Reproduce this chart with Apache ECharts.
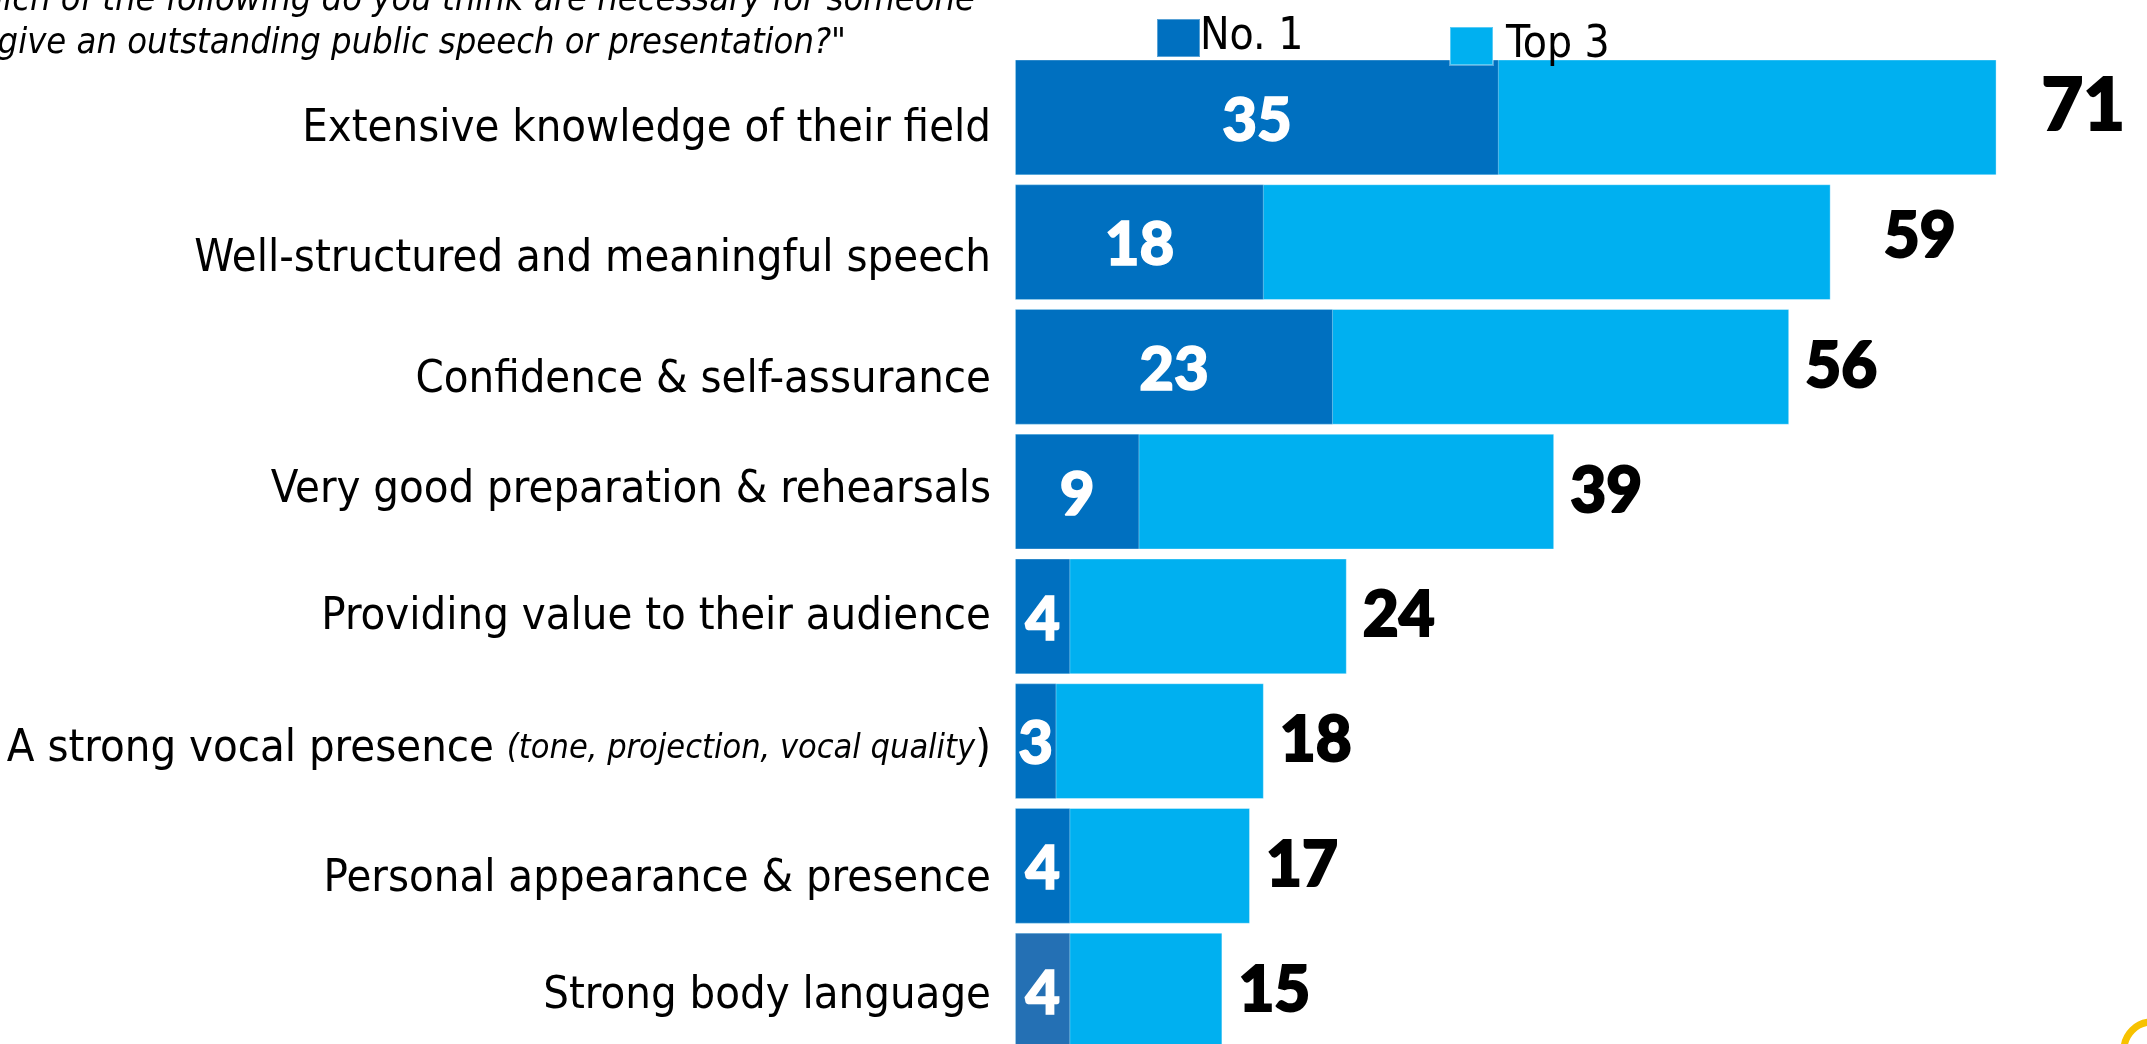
<!DOCTYPE html>
<html>
<head>
<meta charset="utf-8">
<script src="https://cdn.jsdelivr.net/npm/echarts@6/dist/echarts.min.js"></script>
<style>
  html, body { margin: 0; padding: 0; background: #fff; }
  #myChart { width: 2147px; height: 1044px; }
</style>
</head>
<body>
<div id="myChart"></div>
<script>
const categories = [
    'Extensive knowledge of their field',
    'Well-structured and meaningful speech',
    'Confidence & self-assurance',
    'Very good preparation & rehearsals',
    'Providing value to their audience',
    'A strong vocal presence (tone, projection, vocal quality)',
    'Personal appearance & presence',
    'Strong body language'
]
const no1 = [35, 18, 23, 9, 4, 3, 4, 4]
const top3 = [71, 59, 56, 39, 24, 18, 17, 15]
const legendData = ['No. 1', 'Top 3']
const questionLines = [
    '"Which of the following do you think are necessary for someone',
    'to give an outstanding public speech or presentation?"'
]

const narrow = '"Liberation Sans Narrow", "Arial Narrow", "DejaVu Sans Condensed", sans-serif'
const heavy = 'Lato, "DejaVu Sans", sans-serif'
const color = ['#0070c0', '#00b0f0']

// the category labels in the original sit a little below the bar centres
const labelShift = [12, 17, 13, -1, 1, 8, 13, 6]

let myChart = echarts.init(document.getElementById('myChart'))

const yData = categories.map((c, i) => {
    let s = labelShift[i]
    return {
        value: c,
        textStyle: { padding: s >= 0 ? [2 * s, 0, 0, 0] : [0, 0, -2 * s, 0] }
    }
})

// top 3 labels sit further out (and higher) on the two longest bars
const top3Data = top3.map((v, i) => {
    let item = { value: v }
    if (i === 0) item.label = { distance: 45, fontSize: 72, offset: [0, -11] }
    if (i === 1) item.label = { distance: 53, offset: [0, -5] }
    return item
})
const no1Data = no1.map((v, i) => {
    let item = { value: v }
    if (i === no1.length - 1) item.itemStyle = { color: '#2470b4' }
    return item
})

let option = {
    animation: false,
    color: color,
    legend: [
        {
            data: [legendData[0]],
            left: 1151, top: 11,
            icon: 'rect', itemWidth: 43, itemHeight: 38,
            textStyle: { fontFamily: narrow, fontSize: 44, color: '#000', padding: [0, 0, 0, -5] }
        },
        {
            data: [legendData[1]],
            left: 1444, top: 19,
            icon: 'rect', itemWidth: 43, itemHeight: 38,
            textStyle: { fontFamily: narrow, fontSize: 44, color: '#000', padding: [0, 0, 0, 8] }
        }
    ],
    grid: { left: 1015, right: 26, top: 55, height: 998, containLabel: false, outerBoundsMode: 'none' },
    xAxis: {
        type: 'value', min: 0, max: 80, show: false
    },
    yAxis: {
        type: 'category',
        inverse: true,
        data: yData,
        axisLine: { show: false },
        axisTick: { show: false },
        axisLabel: {
            margin: 24,
            formatter: v => {
                let m = v.match(/^(.*?)\((.*)\)$/)
                if (m) return '{n|' + m[1] + '}{i|(' + m[2] + '}{n|)}'
                return '{n|' + v + '}'
            },
            rich: {
                n: { fontFamily: narrow, fontSize: 45, color: '#000' },
                i: { fontFamily: narrow, fontSize: 34, fontStyle: 'italic', color: '#000' }
            }
        }
    },
    series: [
        {
            name: 'Top 3',
            type: 'bar',
            barCategoryGap: '7.2%',
            data: top3Data,
            itemStyle: { color: '#00b0f0', borderColor: 'rgba(255,255,255,0.35)', borderWidth: 1 },
            label: {
                show: true, position: 'right', distance: 16,
                fontFamily: heavy, fontWeight: 900, fontSize: 62, color: '#000',
                textBorderColor: '#000', textBorderWidth: 2
            },
            z: 2
        },
        {
            name: 'No. 1',
            type: 'bar',
            barGap: '-100%',
            barCategoryGap: '7.2%',
            data: no1Data,
            itemStyle: { color: '#0070c0', borderColor: 'rgba(255,255,255,0.35)', borderWidth: 1 },
            label: {
                show: true, position: 'inside', offset: [0, 4],
                fontFamily: heavy, fontWeight: 900, fontSize: 60, color: '#fff',
                textBorderColor: '#fff', textBorderWidth: 1.5
            },
            z: 3
        }
    ],
    graphic: [
        {
            type: 'text', x: 975, y: 1,
            style: {
                text: questionLines[0], align: 'right', verticalAlign: 'middle',
                font: 'italic 36px ' + narrow, fill: '#000'
            }
        },
        {
            type: 'text', x: 846, y: 44,
            style: {
                text: questionLines[1], align: 'right', verticalAlign: 'middle',
                font: 'italic 36px ' + narrow, fill: '#000'
            }
        },
        {
            type: 'circle',
            shape: { cx: 2152, cy: 1050, r: 28 },
            style: { fill: 'none', stroke: '#f7c200', lineWidth: 7 }
        }
    ]
}
myChart.setOption(option)
</script>
</body>
</html>
